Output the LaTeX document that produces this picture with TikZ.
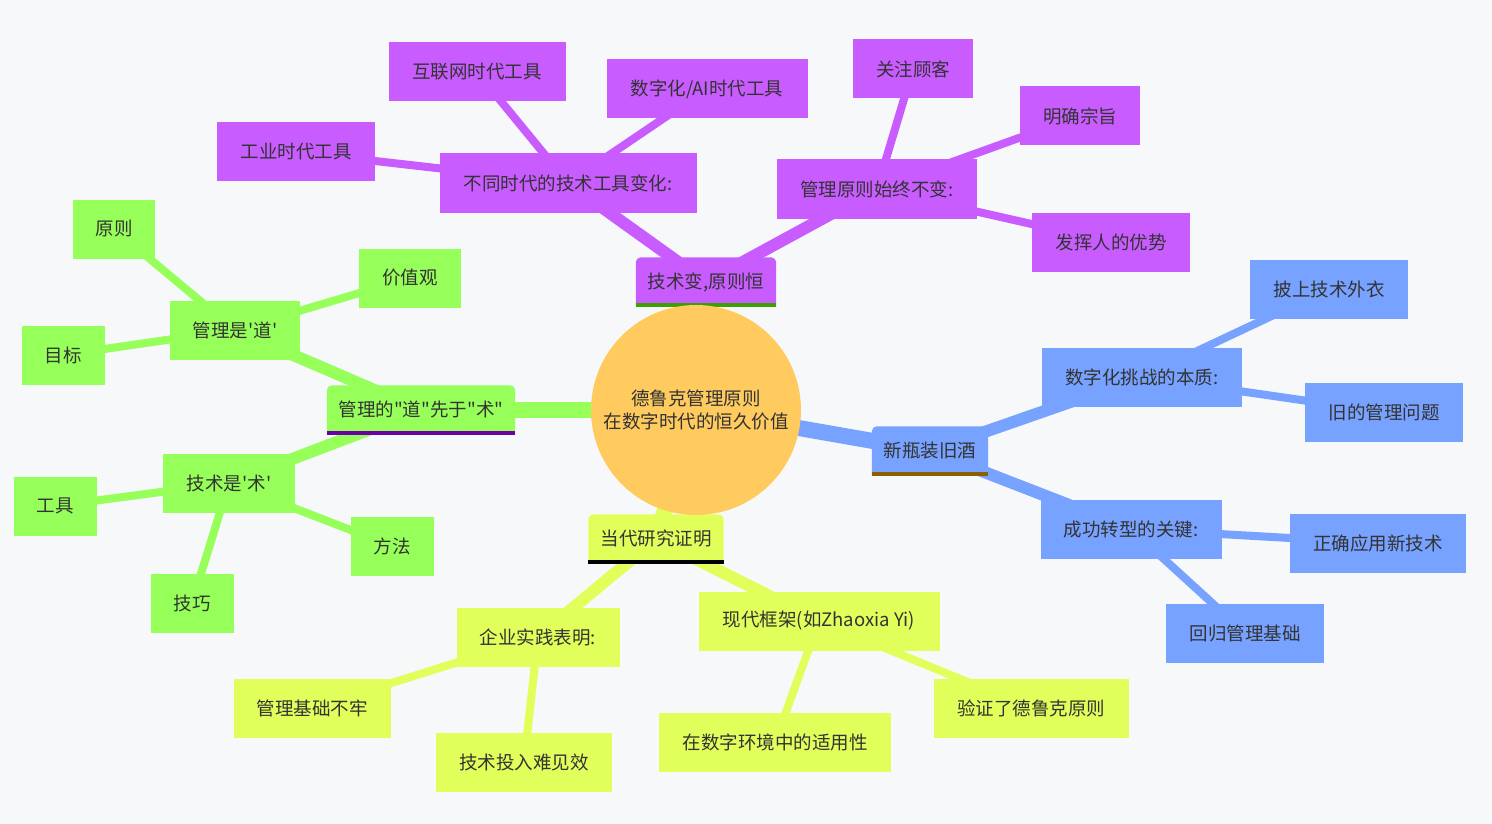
\documentclass[tikz,border=0pt]{standalone}
\usepackage{fontspec}
\newfontfamily\cjkf{Noto Sans CJK SC}
\definecolor{bgc}{HTML}{F7F8FA}
\definecolor{txt}{HTML}{333333}
\definecolor{ctr}{HTML}{FFCB5F}
\definecolor{purp}{HTML}{C95CFF}
\definecolor{grn}{HTML}{97FF5A}
\definecolor{blu}{HTML}{77A2FF}
\definecolor{yel}{HTML}{E0FF5A}
\definecolor{pbar}{HTML}{3CA000}
\definecolor{gbar}{HTML}{6A00A5}
\definecolor{bbar}{HTML}{8C5F00}
\definecolor{ybar}{HTML}{2200B4}
\pgfdeclarelayer{back}
\pgfdeclarelayer{edges}
\pgfdeclarelayer{shapes}
\pgfsetlayers{back,edges,shapes,main}
\newcommand\mysec[3]{%
  \begin{pgfonlayer}{shapes}
    \fill[#2] (#1.south west) [rounded corners=5pt] -- (#1.north west) -- (#1.north east) [sharp corners] -- (#1.south east) -- cycle;
    \fill[#3] (#1.south west) rectangle ([yshift=4pt]#1.south east);
  \end{pgfonlayer}}
\begin{document}
\begin{tikzpicture}[x=1pt,y=-1pt,
  every node/.style={font=\cjkf\fontsize{18.5}{23}\selectfont, text=txt, inner sep=0pt},
  leaf/.style={fill=#1, minimum height=59pt},
  sec/.style={minimum height=49pt},
  e1/.style={line width=16pt, draw=#1},
  e2/.style={line width=12pt, draw=#1},
  e3/.style={line width=8pt, draw=#1}]
\begin{pgfonlayer}{back}
\fill[bgc] (0,0) rectangle (1492,824);
\end{pgfonlayer}
\useasboundingbox (0,0) rectangle (1492,824);

% center
\node[circle, fill=ctr, minimum size=210pt, align=center] (c) at (696,410) {德鲁克管理原则\\在数字时代的恒久价值};

% purple section
\node[sec, minimum width=140pt, text depth=3pt] (p) at (706,282) {技术变,原则恒};
\mysec{p}{purp}{pbar}
\node[leaf=purp, minimum width=257pt] (p1) at (568,183) {不同时代的技术工具变化:};
\node[leaf=purp, minimum width=158pt] (p11) at (296,152) {工业时代工具};
\node[leaf=purp, minimum width=177pt] (p12) at (477,72) {互联网时代工具};
\node[leaf=purp, minimum width=201pt] (p13) at (707,89) {数字化/AI时代工具};
\node[leaf=purp, minimum width=200pt] (p2) at (877,189) {管理原则始终不变:};
\node[leaf=purp, minimum width=120pt] (p21) at (913,69) {关注顾客};
\node[leaf=purp, minimum width=120pt] (p22) at (1080,116) {明确宗旨};
\node[leaf=purp, minimum width=158pt] (p23) at (1111,242) {发挥人的优势};

% green section
\node[sec, minimum width=188pt, text depth=3pt] (g) at (421,410) {管理的"道"先于"术"};
\mysec{g}{grn}{gbar}
\node[leaf=grn, minimum width=130pt] (g1) at (235,330) {管理是'道'};
\node[leaf=grn, minimum width=82pt] (g11) at (114,229) {原则};
\node[leaf=grn, minimum width=102pt] (g12) at (410,278) {价值观};
\node[leaf=grn, minimum width=83pt] (g13) at (63,355) {目标};
\node[leaf=grn, minimum width=132pt] (g2) at (229,483) {技术是'术'};
\node[leaf=grn, minimum width=83pt] (g21) at (55,506) {工具};
\node[leaf=grn, minimum width=83pt] (g22) at (392,546) {方法};
\node[leaf=grn, minimum width=83pt] (g23) at (192,603) {技巧};

% blue section
\node[sec, minimum width=116pt, text depth=3pt] (b) at (930,451) {新瓶装旧酒};
\mysec{b}{blu}{bbar}
\node[leaf=blu, minimum width=200pt] (b1) at (1142,377) {数字化挑战的本质:};
\node[leaf=blu, minimum width=158pt] (b11) at (1329,289) {披上技术外衣};
\node[leaf=blu, minimum width=158pt] (b12) at (1384,412) {旧的管理问题};
\node[leaf=blu, minimum width=181pt] (b2) at (1131,529) {成功转型的关键:};
\node[leaf=blu, minimum width=176pt] (b21) at (1378,543) {正确应用新技术};
\node[leaf=blu, minimum width=158pt] (b22) at (1245,633) {回归管理基础};

% yellow section
\node[sec, minimum width=135pt, text depth=3pt] (y) at (656,539) {当代研究证明};
\mysec{y}{yel}{ybar}
\node[leaf=yel, minimum width=163pt] (y1) at (538,637) {企业实践表明:};
\node[leaf=yel, minimum width=157pt] (y11) at (312,708) {管理基础不牢};
\node[leaf=yel, minimum width=176pt] (y12) at (524,762) {技术投入难见效};
\node[leaf=yel, minimum width=241pt] (y2) at (819,621) {现代框架(如Zhaoxia Yi)};
\node[leaf=yel, minimum width=232pt] (y21) at (775,742) {在数字环境中的适用性};
\node[leaf=yel, minimum width=195pt] (y22) at (1031,708) {验证了德鲁克原则};

\begin{pgfonlayer}{edges}
\draw[e1=purp] (c.center) -- (p.center);
\draw[e1=grn] (c.center) -- (g.center);
\draw[e1=blu] (c.center) -- (b.center);
\draw[e1=yel] (c.center) -- (y.center);
\draw[e2=purp] (p.center) -- (p1.center);
\draw[e2=purp] (p.center) -- (p2.center);
\draw[e3=purp] (p1.center) -- (p11.center);
\draw[e3=purp] (p1.center) -- (p12.center);
\draw[e3=purp] (p1.center) -- (p13.center);
\draw[e3=purp] (p2.center) -- (p21.center);
\draw[e3=purp] (p2.center) -- (p22.center);
\draw[e3=purp] (p2.center) -- (p23.center);
\draw[e2=grn] (g.center) -- (g1.center);
\draw[e2=grn] (g.center) -- (g2.center);
\draw[e3=grn] (g1.center) -- (g11.center);
\draw[e3=grn] (g1.center) -- (g12.center);
\draw[e3=grn] (g1.center) -- (g13.center);
\draw[e3=grn] (g2.center) -- (g21.center);
\draw[e3=grn] (g2.center) -- (g22.center);
\draw[e3=grn] (g2.center) -- (g23.center);
\draw[e2=blu] (b.center) -- (b1.center);
\draw[e2=blu] (b.center) -- (b2.center);
\draw[e3=blu] (b1.center) -- (b11.center);
\draw[e3=blu] (b1.center) -- (b12.center);
\draw[e3=blu] (b2.center) -- (b21.center);
\draw[e3=blu] (b2.center) -- (b22.center);
\draw[e2=yel] (y.center) -- (y1.center);
\draw[e2=yel] (y.center) -- (y2.center);
\draw[e3=yel] (y1.center) -- (y11.center);
\draw[e3=yel] (y1.center) -- (y12.center);
\draw[e3=yel] (y2.center) -- (y21.center);
\draw[e3=yel] (y2.center) -- (y22.center);
\end{pgfonlayer}
\end{tikzpicture}
\end{document}
